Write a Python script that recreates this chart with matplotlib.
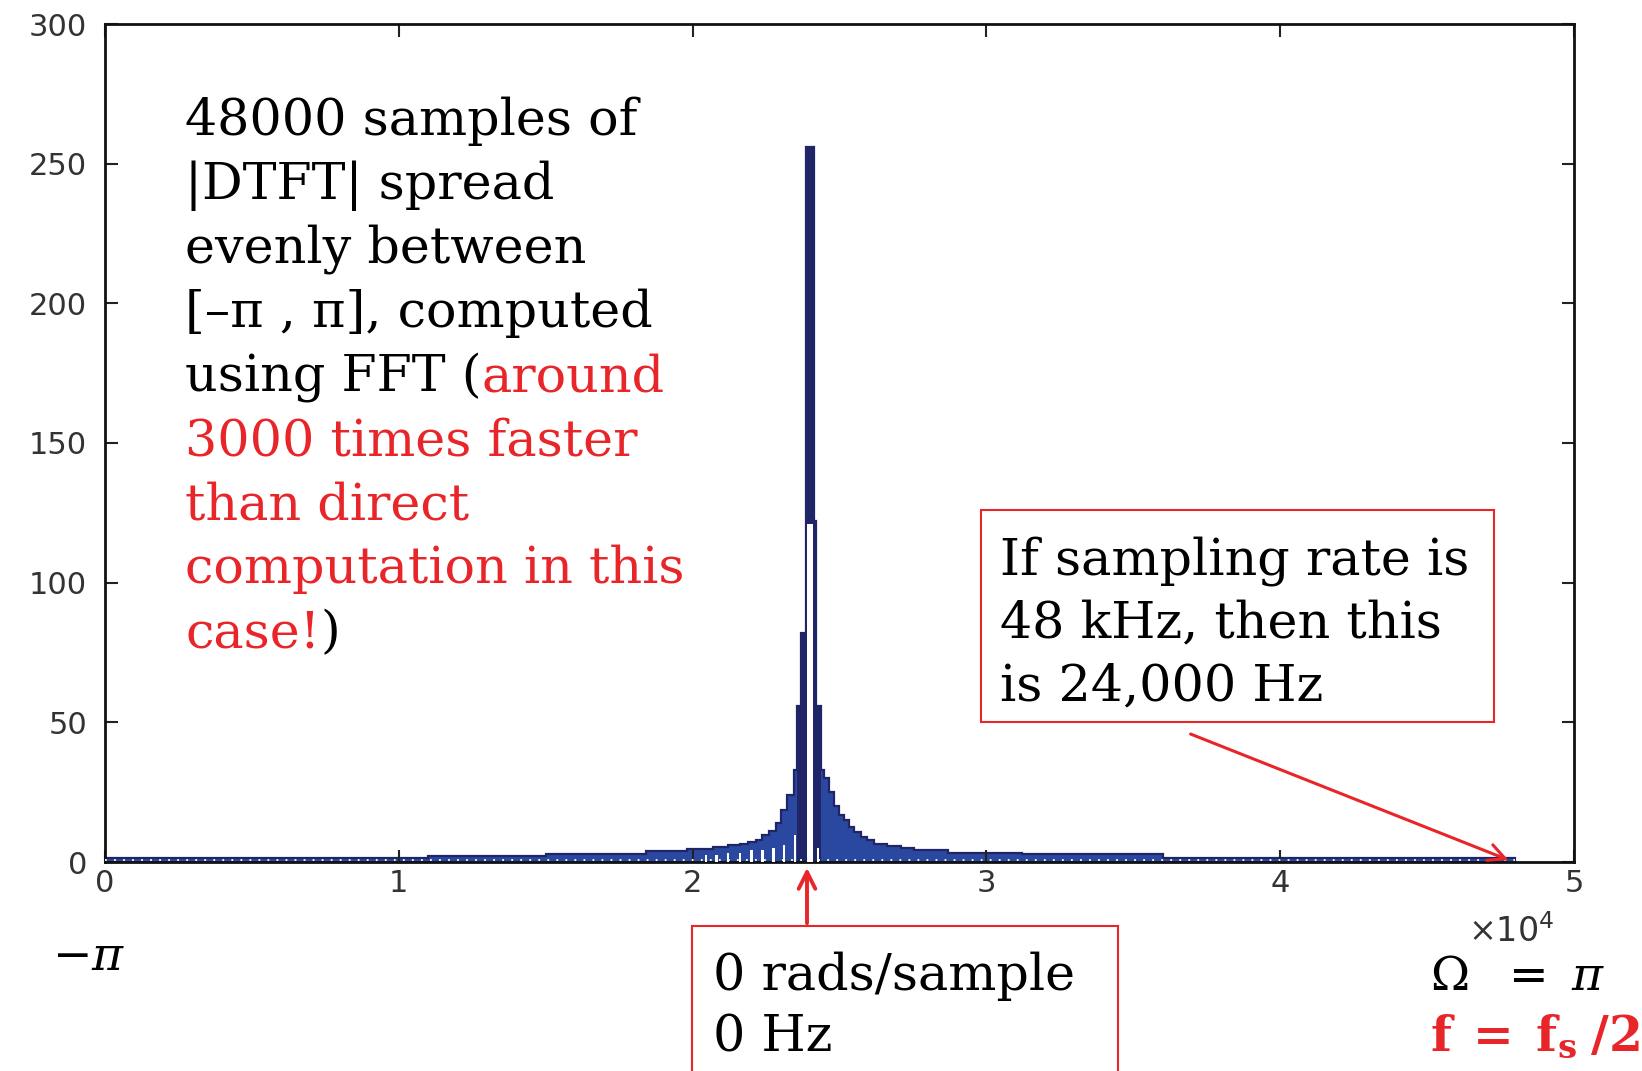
import matplotlib
matplotlib.use("Agg")
import matplotlib.pyplot as plt
from matplotlib.patches import Rectangle

# |DTFT| samples, drawn as a step envelope (bin edges in samples, heights)
env_edges = [0, 11000, 15000, 18400, 19800, 20300, 20700, 21200, 21600, 21900,
             22150, 22370, 22600, 22830, 23000, 23230, 23450, 23565, 23680, 23874,
             24133, 24190, 24360, 24475, 24645, 24815, 24986, 25156, 25326, 25497,
             25724, 25951, 26178, 26633, 27087, 27541, 28677, 31200, 36000, 48000]
env_heights = [1.3, 2.0, 3.0, 3.8, 4.5, 4.8, 5.4, 6.0, 6.5, 7.0,
               7.8, 9.5, 11, 14, 18.5, 24, 33, 56, 82, 256,
               122, 56, 33, 30, 25, 20, 17, 15, 12.5, 10.7,
               9, 7.8, 6.5, 5.7, 5.0, 4.2, 3.3, 2.8, 1.3]

# white gaps between the bars (aliasing stripes near the peak)
gap_x = [20454, 20817, 21215, 21612, 22010, 22384, 22748, 23111, 23486, 24002, 24270]
gap_h = [2.4, 2.6, 3.2, 3.3, 4.2, 4.2, 5.0, 6.0, 9.5, 121, 5.0]
gap_w = [80, 80, 80, 80, 80, 80, 80, 80, 80, 200, 80]

xticks = [0, 10000, 20000, 30000, 40000, 50000]
xtick_labels = ['0', '1', '2', '3', '4', '5']
yticks = [0, 50, 100, 150, 200, 250, 300]

left_lines = [
    [("48000 samples of", "k")],
    [("|DTFT| spread", "k")],
    [("evenly between", "k")],
    [("[\u2013\u03c0 , \u03c0], computed", "k")],
    [("using FFT (", "k"), ("around", "red")],
    [("3000 times faster", "red")],
    [("than direct", "red")],
    [("computation in this", "red")],
    [("case!", "red"), (")", "k")],
]
box_lines = ["If sampling rate is", "48 kHz, then this", "is 24,000 Hz"]
zero_lines = ["0 rads/sample", "0 Hz"]

W, H = 1642, 1071
RED = "#e8262a"
BLUE = "#2a48a0"
NAVY = "#1f2566"
FS = 36.5

plt.rcParams['mathtext.fontset'] = 'dejavuserif'
fig = plt.figure(figsize=(W / 100, H / 100), dpi=100)
ax = fig.add_axes([105 / W, 1 - 862 / H, (1574 - 105) / W, (862 - 24) / H])

ax.stairs(env_heights, env_edges, fill=True, color=BLUE, baseline=0)
# the narrow tall bins around the peak render almost all edge colour
core = [i for i, h in enumerate(env_heights) if h >= 56]
ax.stairs(env_heights[core[0]:core[-1] + 1], env_edges[core[0]:core[-1] + 2],
          fill=True, color=NAVY, baseline=0)
ax.stairs(env_heights, env_edges, fill=False, color=NAVY, lw=1.6, baseline=0)
ax.bar(gap_x, gap_h, width=gap_w, color="white", linewidth=0, zorder=3)
# dotted white aliasing along the baseline
ax.axhline(0.7, xmin=0, xmax=0.96, color="white", lw=1.3, ls=(0, (1, 4)), zorder=3)

ax.set_xlim(0, 50000)
ax.set_ylim(0, 300)
ax.set_xticks(xticks)
ax.set_xticklabels(xtick_labels)
ax.set_yticks(yticks)
ax.tick_params(direction="in", top=True, right=True, length=9, width=1.5,
               labelsize=22, labelcolor="#333333", colors="#222222")
ax.tick_params(axis="y", pad=13)
ax.tick_params(axis="x", pad=5)
for s in ax.spines.values():
    s.set_linewidth(2)
    s.set_color("#111111")

fig.text(1468 / W, 1 - 942 / H, r"$\times\mathdefault{10}^{\mathdefault{4}}$",
         fontsize=24, color="#333333", family="DejaVu Sans", va="baseline")


def px(x, y):
    return x / W, 1 - y / H


TXT = dict(family="DejaVu Serif", fontsize=FS, va="baseline")

# left text block, second part of a line placed right after the first
for i, parts in enumerate(left_lines):
    txt, col = parts[0]
    first = fig.text(*px(185, 135 + i * 64), txt,
                     color=RED if col == "red" else "black", **TXT)
    for txt, col in parts[1:]:
        ax.annotate(txt, xy=(1, 0), xycoords=first, va="bottom", ha="left",
                    color=RED if col == "red" else "black",
                    family="DejaVu Serif", fontsize=FS, annotation_clip=False)

# right box
fig.add_artist(Rectangle(px(981, 722), (1494 - 981) / W, (722 - 510) / H,
                         transform=fig.transFigure, fill=False, ec=RED, lw=1.5))
for i, line in enumerate(box_lines):
    fig.text(*px(1000, 574 + i * 63), line, color="black", **TXT)

# bottom box
fig.add_artist(Rectangle(px(692, 1080), (1118 - 692) / W, (1080 - 926) / H,
                         transform=fig.transFigure, fill=False, ec=RED, lw=1.5,
                         clip_on=False))
for i, line in enumerate(zero_lines):
    fig.text(*px(713, 990 + i * 62), line, color="black", **TXT)

# arrows
ax.annotate("", xy=(1511, H - 861), xycoords="figure pixels",
            xytext=(1188, H - 733), textcoords="figure pixels",
            arrowprops=dict(arrowstyle="->", color=RED, lw=2.2, mutation_scale=30))
ax.annotate("", xy=(807, H - 865), xycoords="figure pixels",
            xytext=(807, H - 926), textcoords="figure pixels",
            arrowprops=dict(arrowstyle="->", color=RED, lw=2.8, mutation_scale=30))

fig.text(*px(52, 970), r"$-\pi$", fontsize=34, color="black", va="baseline")
fig.text(*px(1430, 990), r"$\Omega\ \ =\ \pi$", fontsize=34, color="black", va="baseline")
fig.text(*px(1430, 1050), r"$\mathbf{f\;=\;f_s\;/2}$", fontsize=35, color=RED, va="baseline")

fig.savefig("out.png", dpi=100, facecolor="white")
